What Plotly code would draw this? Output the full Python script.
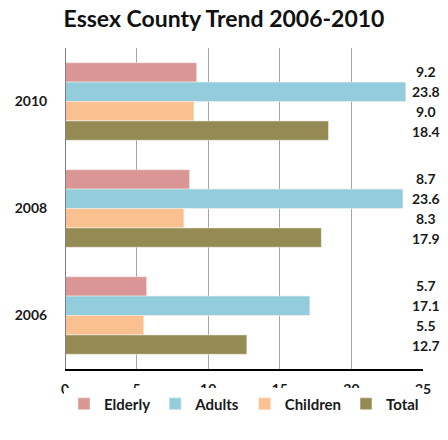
import plotly.graph_objects as go

years = ['2010', '2008', '2006']
series = ['Elderly', 'Adults', 'Children', 'Total']
elderly = [9.2, 8.7, 5.7]
adults = [23.8, 23.6, 17.1]
children = [9.0, 8.3, 5.5]
total = [18.4, 17.9, 12.7]
colors = ['#D99694', '#93CDDD', '#FAC090', '#948A54']

values = [elderly, adults, children, total]
font = 'Lato'

# page body has an 8px margin all round, so keep the figure inside the window
W, H = 432, 424
M = dict(l=57, r=17, t=40, b=54)

fig = go.Figure()
for name, vals, col in zip(series, values, colors):
    fig.add_trace(go.Bar(y=years, x=vals, name='<b>%s</b>' % name, orientation='h',
                         marker=dict(color=col, line=dict(color='#F4F0EA', width=0.6))))

# value labels sit at the right edge of the plot, one per bar
# (annotations on a category axis take the category's serial number)
bargap = 0.275
plot_h = H - M['t'] - M['b']
bar_px = plot_h / len(years) * (1 - bargap) / len(series)
for i, vals in enumerate(values):
    for j, v in enumerate(vals):
        fig.add_annotation(x=25, y=j, xref='x', yref='y', text='<b>%.1f</b>' % v,
                           showarrow=False, xanchor='center', xshift=3,
                           yshift=-(i - 1.5) * bar_px,
                           font=dict(family=font, size=14, color='#1a1a1a'))

fig.update_layout(
    width=W, height=H,
    barmode='group', bargap=bargap, bargroupgap=0,
    title=dict(text='<b>Essex County Trend 2006-2010</b>', x=0.5, xanchor='center', y=1 - 11 / H, yanchor='middle',
               font=dict(family=font, size=23, color='#111111')),
    margin=M,
    paper_bgcolor='white', plot_bgcolor='white',
    showlegend=True,
    legend=dict(orientation='h', x=0.5, xanchor='center', y=-(M['b'] - 1) / plot_h, yanchor='bottom',
                font=dict(family=font, size=15, color='#1a1a1a')),
    xaxis=dict(range=[0, 25], dtick=5, showgrid=True, gridcolor='#A6A6A6', gridwidth=1,
               zeroline=False, showline=True, linecolor='black', linewidth=2, automargin=False,
               ticks='outside', ticklen=6, tickcolor='rgba(0,0,0,0)',
               tickvals=[0, 5, 10, 15, 20, 25], ticktext=['<b>%d</b>' % t for t in range(0, 30, 5)],
               tickfont=dict(family=font, size=14, color='#1a1a1a')),
    yaxis=dict(type='category', autorange='reversed', automargin=False,
               showline=False, ticks='outside', ticklen=14, tickcolor='rgba(0,0,0,0)',
               tickvals=years, ticktext=['<b>%s</b>' % y for y in years],
               tickfont=dict(family=font, size=14, color='#1a1a1a')),
)
fig.add_shape(type='line', xref='x', yref='paper', x0=0, x1=0, y0=0, y1=1,
              line=dict(color='#7F7F7F', width=2))

fig.write_html("out.html")
